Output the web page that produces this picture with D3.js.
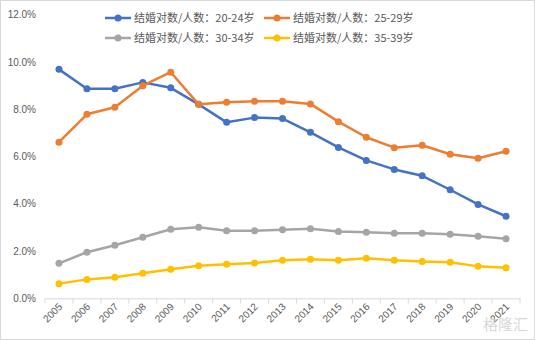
<!DOCTYPE html>
<html><head><meta charset="utf-8">
<script src="https://cdn.jsdelivr.net/npm/d3@7"></script>
<style>body{margin:0;background:#fff}svg{display:block}</style>
</head><body><svg id="c" width="535" height="340"></svg>
<script>
const years = ["2005","2006","2007","2008","2009","2010","2011","2012","2013","2014","2015","2016","2017","2018","2019","2020","2021"];
const s2024 = [9.68,8.86,8.86,9.13,8.90,8.20,7.44,7.64,7.60,7.02,6.38,5.83,5.45,5.18,4.59,3.97,3.47];
const s2529 = [6.60,7.78,8.08,8.99,9.56,8.20,8.29,8.33,8.33,8.22,7.47,6.81,6.37,6.47,6.09,5.92,6.22];
const s3034 = [1.48,1.95,2.24,2.58,2.92,3.00,2.86,2.86,2.90,2.94,2.82,2.79,2.75,2.75,2.71,2.62,2.52];
const s3539 = [0.62,0.80,0.89,1.06,1.23,1.38,1.44,1.49,1.61,1.65,1.61,1.69,1.61,1.56,1.52,1.35,1.29];
const seriesNames = ["结婚对数/人数：20-24岁","结婚对数/人数：25-29岁","结婚对数/人数：30-34岁","结婚对数/人数：35-39岁"];
const colors = ["#4472C4","#ED7D31","#A5A5A5","#FFC000"];
const yTicks = [0,2,4,6,8,10,12];

const series = [s2024,s2529,s3034,s3539].map((v,i)=>({name:seriesNames[i],color:colors[i],values:v}));
const svg = d3.select("#c");
const font = "'Noto Sans CJK SC','Microsoft YaHei',sans-serif";
svg.append("rect").attr("x",0.5).attr("y",0.5).attr("width",534).attr("height",339)
  .attr("fill","#fff").attr("stroke","#d9d9d9");

const x = d3.scaleBand().domain(years).range([45,520]);
const y = d3.scaleLinear().domain([0,12]).range([298.3,14.5]);

// y axis labels
const ya = svg.append("g").attr("transform","translate(45,0)")
  .call(d3.axisLeft(y).tickValues(yTicks).tickFormat(d=>d3.format(".1f")(d)+"%").tickSize(0).tickPadding(9));
ya.select(".domain").remove();
ya.selectAll("text").attr("fill","#595959").style("font-family","Arial,'Liberation Sans',sans-serif").style("font-size","10px");

// x axis
const xa = svg.append("g").attr("transform","translate(0,298.3)")
  .call(d3.axisBottom(x).tickSize(0).tickPadding(0));
xa.select(".domain").attr("stroke","#d9d9d9");
xa.selectAll(".tick line").remove();
svg.append("g").selectAll("line").data(d3.range(years.length+1)).join("line")
  .attr("x1",i=>45+i*x.step()).attr("x2",i=>45+i*x.step())
  .attr("y1",298.3).attr("y2",303.5).attr("stroke","#d9d9d9");
xa.selectAll(".tick text")
  .attr("fill","#595959").style("font-family","Arial,'Liberation Sans',sans-serif").style("font-size","10px")
  .attr("text-anchor","end").attr("dy","0").attr("y",0)
  .attr("transform","translate(4,9) rotate(-45)");

// lines
const line = d3.line().x((d,i)=>x(years[i])+x.bandwidth()/2).y(d=>y(d));
series.forEach(s=>{
  const g = svg.append("g");
  g.append("path").attr("d",line(s.values)).attr("fill","none").attr("stroke",s.color)
    .attr("stroke-width",2.5).attr("stroke-linejoin","round");
  g.selectAll("circle").data(s.values).join("circle")
    .attr("cx",(d,i)=>x(years[i])+x.bandwidth()/2).attr("cy",d=>y(d)).attr("r",3.5).attr("fill",s.color);
});

// legend
const legPos = [[105,18],[264,18],[105,38],[264,38]];
series.forEach((s,i)=>{
  const [lx,ly] = legPos[i];
  const g = svg.append("g").attr("transform",`translate(${lx},${ly})`);
  g.append("line").attr("x1",0).attr("x2",26).attr("y1",0).attr("y2",0).attr("stroke",s.color).attr("stroke-width",2.5);
  g.append("circle").attr("cx",13).attr("cy",0).attr("r",3.5).attr("fill",s.color);
  g.append("text").attr("x",29).attr("y",0).attr("dy","0.35em").attr("fill","#595959")
    .style("font-family",font).style("font-size","11px").text(s.name);
});

// watermark
svg.append("text").attr("x",528).attr("y",330).attr("text-anchor","end").attr("fill","#cfcfcf")
  .attr("opacity",0.8).style("font-family",font).style("font-size","15px").text("格隆汇");
</script></body></html>
